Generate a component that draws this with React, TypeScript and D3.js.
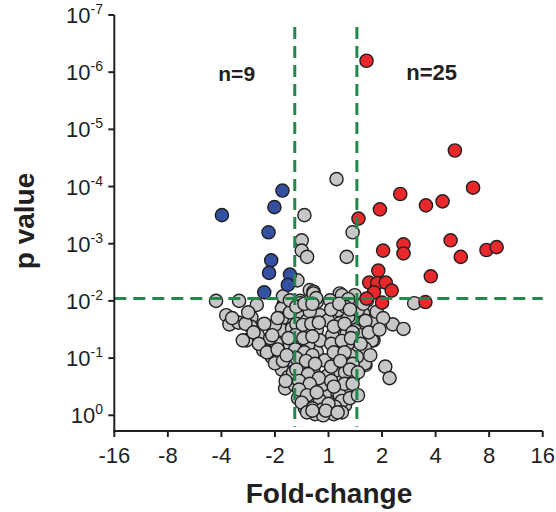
import React from 'react';
import * as d3 from 'd3';

// [log2 fold-change, -log10 p]
const downGenes: [number, number][] = [
  [-0.86, 3.93], [-1.01, 3.64], [-1.99, 3.5], [-1.12, 3.2], [-1.07, 2.71],
  [-1.11, 2.49], [-0.72, 2.46], [-0.76, 2.28], [-1.2, 2.15],
];

const upGenes: [number, number][] = [
  [0.71, 6.2], [2.36, 4.63], [2.7, 3.98], [1.34, 3.87], [1.82, 3.67],
  [2.13, 3.74], [0.96, 3.6], [0.56, 3.44], [2.28, 3.06], [1.4, 2.99],
  [1.02, 2.88], [1.4, 2.83], [2.47, 2.77], [2.95, 2.89], [3.14, 2.94],
  [1.91, 2.43], [1.81, 1.98], [0.93, 2.53], [0.76, 2.32], [0.91, 2.31],
  [1.07, 2.32], [1.18, 2.18], [0.85, 2.15], [0.71, 2.04], [1.0, 1.97],
];

const otherGenes: [number, number][] = [
  [0.15, 4.13], [-0.45, 3.5], [0.45, 3.2], [-0.5, 3.06], [-0.5, 2.88],
  [-0.4, 2.77], [0.34, 2.77], [-0.58, 2.36], [-0.35, 2.19], [-0.53, 2.0],
  [-0.84, 1.93], [-2.1, 2.0], [-1.67, 2.0], [-0.28, 2.16], [0.21, 2.13],
  [0.4, 1.98], [1.6, 1.96], [1.06, 0.85], [1.14, 0.65], [1.2, 1.59],
  [1.4, 1.51], [0.84, 1.31], [0.69, 0.88], [-1.91, 1.75], [-1.85, 1.59],
  [-1.68, 1.62], [-1.34, 1.93], [-1.44, 1.71], [-1.45, 1.55], [-1.53, 1.31],
  [-1.22, 1.28], [-1.12, 1.2], [-0.87, 1.87], [-0.87, 1.69], [-0.87, 1.49],
  [-0.97, 1.26], [-1.06, 1.02], [-0.91, 1.02], [-0.87, 0.8], [-0.81, 0.47],
  [-0.75, 0.67], [-0.53, 1.96], [-0.28, 2.13], [-0.22, 1.98], [-0.35, 1.9],
  [-0.53, 1.72], [-0.25, 1.72], [-0.41, 1.49], [-0.22, 1.49], [-0.53, 1.31],
  [-0.25, 1.2], [-0.53, 1.08], [-0.35, 0.96], [-0.22, 1.11], [-0.53, 0.85],
  [-0.28, 0.76], [-0.44, 0.61], [-0.25, 0.56], [-0.47, 0.38], [-0.28, 0.29],
  [-0.13, 0.2], [0.06, 0.29], [0.12, 0.44], [0.21, 0.61], [0.15, 0.79],
  [0.28, 0.91], [0.12, 1.02], [0.21, 1.2], [0.15, 1.4], [0.34, 1.43],
  [0.21, 1.61], [0.37, 1.72], [0.18, 1.84], [0.25, 2.1], [0.59, 1.55],
  [0.65, 1.78], [0.84, 1.66], [0.81, 1.31], [0.68, 0.91], [0.9, 1.81],
  [0.68, 1.17], [0.53, 1.02], [0.46, 0.67], [0.34, 0.44], [-0.2, 0.09],
  [-0.01, 0.05], [0.18, 0.09], [0.31, 0.18], [-0.35, 0.18], [-0.07, 0.35],
  [-0.12, 0.53], [-0.01, 0.7], [-0.07, 0.96], [-1.6, 1.31], [-1.32, 1.4],
  [-1.22, 1.14], [-1.09, 1.35], [-1.0, 1.58], [-0.72, 1.8], [-0.68, 1.52],
  [-0.72, 1.23], [-0.68, 0.96], [-0.66, 0.75], [-0.63, 0.53], [-0.57, 0.3],
  [-0.44, 0.12], [-1.0, 0.91], [-0.4, 1.66], [-0.16, 1.75], [-0.38, 1.23],
  [-0.16, 1.31], [-0.44, 0.88], [-0.35, 0.44], [-0.16, 0.26], [0.03, 2.01],
  [-0.01, 1.66], [0.07, 1.4], [0.35, 1.23], [0.4, 1.05], [0.31, 0.75],
  [0.21, 0.35], [0.07, 0.18], [0.49, 1.49], [0.55, 1.84], [0.49, 2.1],
  [0.72, 2.01], [1.02, 1.7], [-0.85, 2.08], [-0.72, 2.01], [-0.35, 1.82],
  [-0.23, 2.05], [0.37, 2.03], [0.31, 1.9], [0.69, 1.65], [0.6, 1.4],
  // dense core
  [-0.6, 1.9], [-0.45, 1.95], [-0.3, 1.95], [-0.6, 1.6], [-0.48, 1.58],
  [-0.32, 1.6], [-0.18, 1.62], [-0.62, 1.4], [-0.47, 1.35], [-0.3, 1.38],
  [-0.62, 1.15], [-0.45, 1.1], [-0.3, 1.05], [-0.6, 1.0], [-0.42, 0.95],
  [-0.25, 0.9], [-0.6, 0.8], [-0.38, 0.72], [-0.18, 0.65], [-0.55, 0.6],
  [-0.35, 0.55], [-0.55, 0.45], [-0.4, 0.35], [-0.22, 0.4], [-0.5, 0.22],
  [-0.3, 0.12], [-0.12, 0.1], [-0.25, 0.02], [-0.4, 0.05], [0.05, 1.85],
  [0.2, 1.95], [0.4, 1.85], [0.1, 1.55], [0.3, 1.6], [0.45, 1.45],
  [0.05, 1.25], [0.25, 1.3], [0.42, 1.35], [0.1, 1.1], [0.3, 1.1],
  [0.45, 0.9], [0.05, 0.85], [0.22, 0.95], [0.4, 0.8], [0.05, 0.6],
  [0.3, 0.55], [0.45, 0.55], [0.1, 0.5], [0.25, 0.25], [0.4, 0.3],
  [0.12, 0.15], [0.0, 0.2], [0.1, 0.02], [-0.1, 0.0], [0.25, 0.05],
  [-1.8, 1.7], [-1.55, 1.6], [-1.4, 1.45], [-1.3, 1.25], [-1.15, 1.1],
  [-1.05, 1.4], [-0.95, 1.7], [-0.95, 1.15], [-0.85, 0.95], [-0.8, 0.6],
  [-0.75, 1.35], [-0.78, 1.05], [-1.2, 1.6], [-1.5, 1.8], [0.6, 1.25],
  [0.75, 1.45], [0.55, 0.75], [0.65, 1.95], [0.95, 1.5], [0.78, 1.05],
  [0.55, 0.35], [-0.3, 0.08], [-0.05, 0.08], [0.17, 0.05],
];

const xTicks = [-4, -3, -2, -1, 0, 1, 2, 3, 4];
const yTicks = [0, 1, 2, 3, 4, 5, 6, 7];
const foldCutLow = -0.63;
const foldCutHigh = 0.53;
const pCut = 2.04;
const nDown = 'n=9';
const nUp = 'n=25';

const FONT = '"Liberation Sans", Arial, Helvetica, sans-serif';
const GREEN = '#22894a';
const AXIS = '#231f20';

function foldLabel(k: number) {
  if (k === 0) return '1';
  return (k < 0 ? '-' : '') + Math.pow(2, Math.abs(k));
}

export default function App() {
  const x = d3.scaleLinear().domain([-4, 4]).range([114.3, 542.7]);
  const y = d3.scaleLinear().domain([-0.275, 7]).range([431, 15]);

  const dot = (d: [number, number], i: number, fill: string) => (
    <circle key={i} cx={x(d[0])} cy={y(d[1])} r={6.6} fill={fill} stroke={AXIS} strokeWidth={1.4} />
  );

  return (
    <svg width={556} height={512} style={{ position: 'absolute', left: 0, top: 0 }} fontFamily={FONT}>
      <rect width={556} height={512} fill="#fff" />

      {/* points */}
      <g>{otherGenes.map((d, i) => dot(d, i, '#c6c7c9'))}</g>
      <g>{downGenes.map((d, i) => dot(d, i, '#3450a2'))}</g>
      <g>{upGenes.map((d, i) => dot(d, i, '#e8282b'))}</g>

      {/* cut-off lines */}
      <g stroke={GREEN} strokeWidth={3} strokeDasharray="12,7" fill="none">
        <line x1={x(foldCutLow)} x2={x(foldCutLow)} y1={27} y2={y(-0.2)} />
        <line x1={x(foldCutHigh)} x2={x(foldCutHigh)} y1={27} y2={y(-0.2)} />
        <line x1={x(-4)} x2={x(4)} y1={y(pCut)} y2={y(pCut)} />
      </g>

      {/* axes */}
      <g stroke={AXIS} strokeWidth={2} fill="none">
        <line x1={x(-4)} x2={x(-4)} y1={y(7)} y2={y(-0.275)} />
        <line x1={x(-4) - 1} x2={x(4)} y1={y(-0.275)} y2={y(-0.275)} />
        {yTicks.map((t) => (
          <line key={t} x1={x(-4) - 6} x2={x(-4)} y1={y(t)} y2={y(t)} />
        ))}
        {xTicks.map((t) => (
          <line key={t} x1={x(t)} x2={x(t)} y1={y(-0.275)} y2={y(-0.275) + 6} />
        ))}
      </g>

      <g fill={AXIS} fontSize={22}>
        {yTicks.map((t) => (
          <text key={t} x={103} y={y(t) + 8} textAnchor="end">
            <tspan>10</tspan>
            <tspan dy={-9} fontSize={14}>{t === 0 ? '0' : '-' + t}</tspan>
          </text>
        ))}
        {xTicks.map((t) => (
          <text key={t} x={x(t)} y={463} textAnchor="middle">{foldLabel(t)}</text>
        ))}
      </g>

      <g fill={AXIS} fontWeight="bold">
        <text x={236.7} y={81} fontSize={21} textAnchor="middle">{nDown}</text>
        <text x={431.7} y={80} fontSize={22} textAnchor="middle">{nUp}</text>
        <text x={329} y={503} fontSize={28} textAnchor="middle">Fold-change</text>
        <text transform="translate(34,221) rotate(-90)" fontSize={28} textAnchor="middle">p value</text>
      </g>
    </svg>
  );
}
